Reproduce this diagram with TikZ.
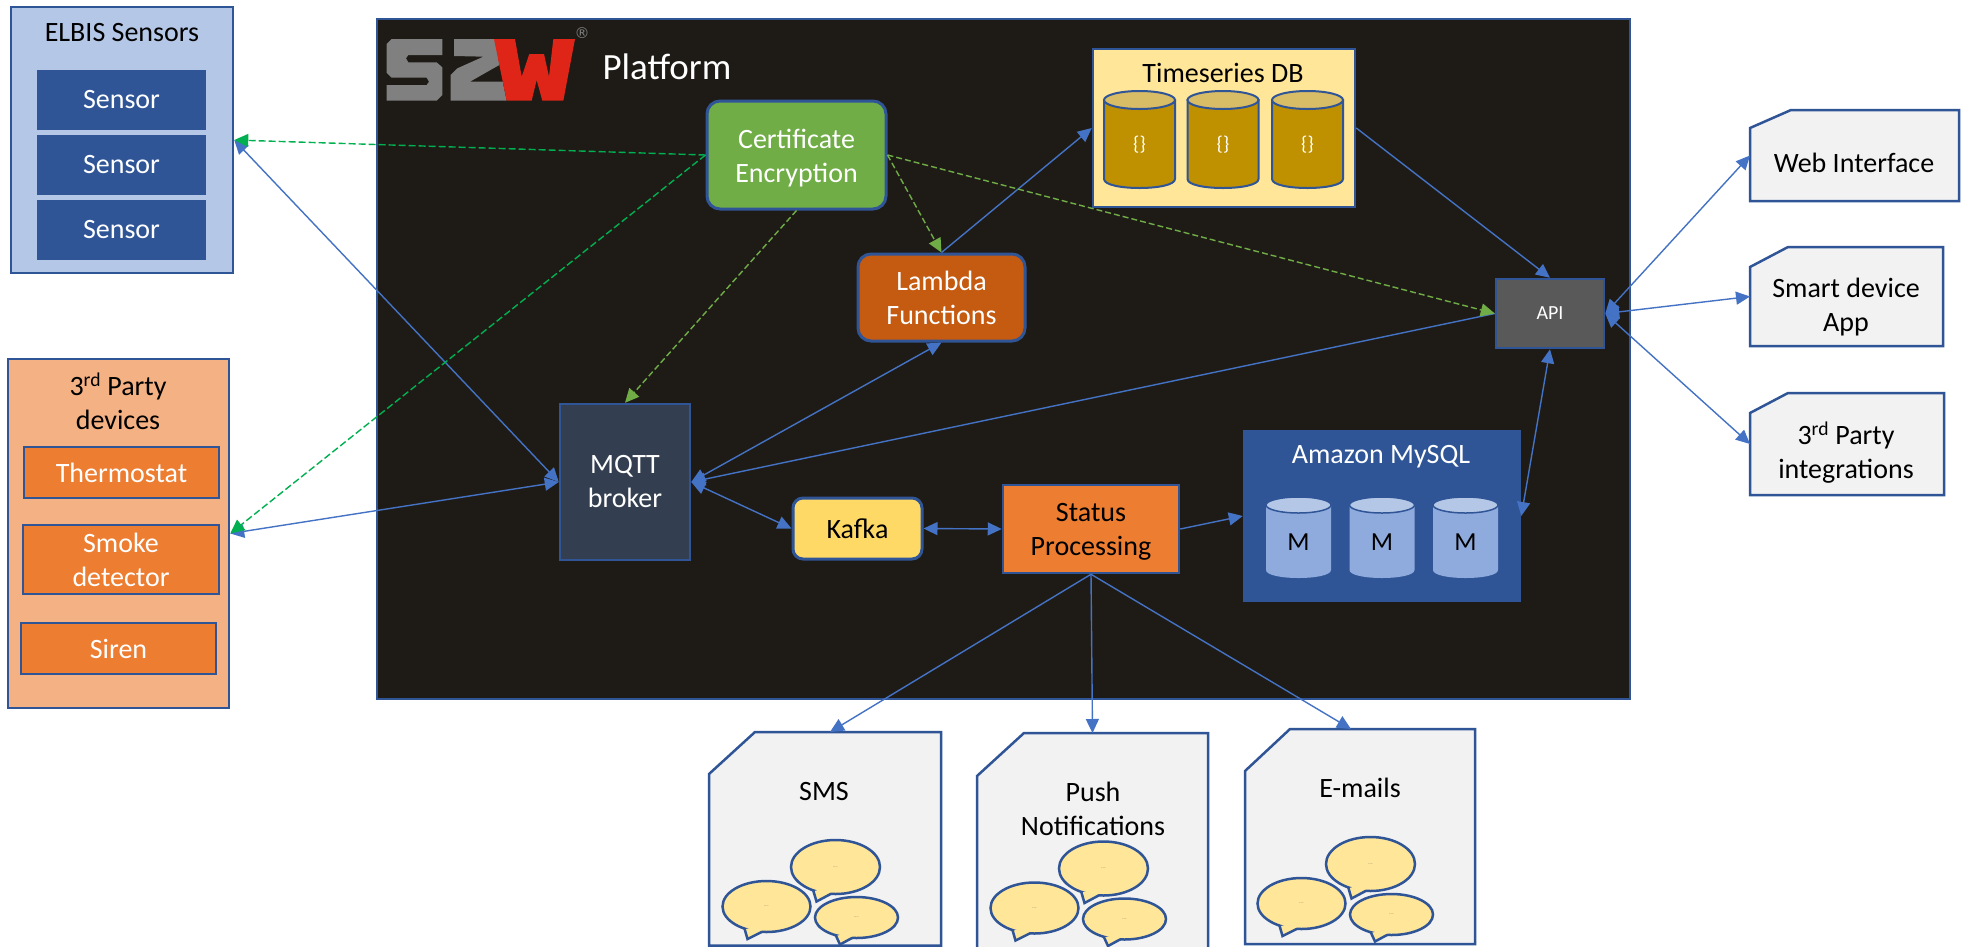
\documentclass[tikz,border=0pt]{standalone}
\usepackage{fontspec}
\setmainfont{Carlito}
\newfontfamily\regfont{DejaVu Sans}
\usetikzlibrary{arrows.meta,shapes.geometric}
\definecolor{edge}{HTML}{2F5597}
\definecolor{linkblue}{HTML}{4472C4}
\definecolor{secgreen}{HTML}{00B050}
\definecolor{ltgreen}{HTML}{70AD47}
\definecolor{platbg}{HTML}{1E1B16}
\definecolor{docbg}{HTML}{F2F2F2}
\definecolor{elbisbg}{HTML}{B4C7E7}
\definecolor{partybg}{HTML}{F4B183}
\definecolor{orangebox}{HTML}{ED7D31}
\definecolor{lambdabg}{HTML}{C55A11}
\definecolor{kafkabg}{HTML}{FFD966}
\definecolor{mqttbg}{HTML}{333F50}
\definecolor{apibg}{HTML}{595959}
\definecolor{pale}{HTML}{FFE699}
\definecolor{gold}{HTML}{BF9000}
\definecolor{goldtop}{HTML}{D9BC66}
\definecolor{msbody}{HTML}{8FAADC}
\definecolor{logogray}{HTML}{808080}
\definecolor{logored}{HTML}{DE2518}
\tikzset{
  >={Triangle[length=14pt,width=13pt]},
  px/.style n args={4}{at={({(#1+#3)/2},{(#2+#4)/2})},minimum width={#3-#1},minimum height={#4-#2}},
  base/.style={rectangle,draw=edge,line width=2.5pt,inner sep=0pt,align=center,font=\fontsize{28}{34}\selectfont},
  whitetext/.style={base,text=white},
  softbox/.style={base,rounded corners=13pt,line width=3pt},
  docanchor/.style={rectangle,inner sep=0pt,outer sep=0pt},
  docshape/.style={draw=edge,line width=2.5pt,fill=docbg,line join=miter},
  caption/.style={inner sep=0pt,align=center,font=\fontsize{28}{34}\selectfont},
  bluelink/.style={draw=linkblue,line width=1.4pt},
  seclink/.style={draw=secgreen,line width=1.4pt,dash pattern=on 7pt off 3pt},
  certlink/.style={draw=ltgreen,line width=1.4pt,dash pattern=on 6pt off 3pt},
  bubshape/.style={ellipse,draw=edge,line width=2.5pt,fill=pale,inner sep=0pt,
     font=\fontsize{4}{4}\selectfont,text=black!70},
  bubbles/.pic={
    \bubble{-a}{835.5}{867}{44.5}{27}{-19}{34.5}
    \bubble{-b}{766.5}{906.5}{44}{25.5}{-19}{32.5}
    \bubble{-c}{856.5}{917.5}{41.5}{20.5}{-16.5}{27}
  }
}
% name, centre x, centre y, half width, half height, tip dx, tip dy
\newcommand{\bubble}[7]{%
  \node[bubshape,minimum width={2*#4},minimum height={2*#5}] (#1) at (#2,#3) {....};
  \fill[pale] (#2,#3+#5*0.7) -- ({#2+#4*cos(118)},{#3+#5*sin(118)}) -- ({#2+#6},{#3+#7}) -- ({#2+#4*cos(98)},{#3+#5*sin(98)}) -- cycle;
  \draw[edge,line width=2.5pt,line join=miter] ({#2+#4*cos(120)},{#3+#5*sin(120)}) -- ({#2+#6},{#3+#7}) -- ({#2+#4*cos(96)},{#3+#5*sin(96)});
}
% outline with a snipped top left corner, drawn round a named node
\newcommand{\snipped}[3]{%
  \path[docshape] ([yshift=-#3]#1.north west) -- ([xshift=#2]#1.north west) -- (#1.north east) -- (#1.south east) -- (#1.south west) -- cycle;
}
% name, centre x, half width, top, bottom, end radius, body style, top style, label style, label
\newcommand{\dbcyl}[9]{%
  \path[#7] ({#2-#3},{#4+#6}) -- ({#2-#3},{#5-#6})
     .. controls ({#2-#3},{#5+#6/3}) and ({#2+#3},{#5+#6/3}) .. ({#2+#3},{#5-#6})
     -- ({#2+#3},{#4+#6}) -- cycle;
  \path[#8] (#2,{#4+#6}) ellipse[x radius=#3,y radius=#6];
  \node[inner sep=0pt,#9] (#1) at (#2,{(#4+#5)/2+5})}
\begin{document}
\begin{tikzpicture}[x=1pt,y=-1pt]
\useasboundingbox (0,0) rectangle (1968,946);
\fill[white] (0,0) rectangle (1968,946);

% platform
\node[base,fill=platbg,px={377}{19}{1630}{699}] (platform) {};
\fill[logogray] ({380+35/3},{30+27/3}) -- ({380+187/3},{30+27/3}) -- ({380+187/3},{30+75/3}) -- ({380+85/3},{30+75/3})
  -- ({380+78/3},{30+85/3}) -- ({380+85/3},{30+97/3}) -- ({380+170/3},{30+97/3}) -- ({380+187/3},{30+112/3})
  -- ({380+187/3},{30+195/3}) -- ({380+170/3},{30+212/3}) -- ({380+20/3},{30+212/3}) -- ({380+20/3},{30+165/3})
  -- ({380+140/3},{30+165/3}) -- ({380+147/3},{30+155/3}) -- ({380+140/3},{30+143/3}) -- ({380+35/3},{30+143/3})
  -- ({380+20/3},{30+128/3}) -- ({380+20/3},{30+42/3}) -- cycle;
\fill[logogray] ({380+222/3},{30+27/3}) -- ({380+345/3},{30+27/3}) -- ({380+358/3},{30+105/3}) -- ({380+270/3},{30+155/3})
  -- ({380+368/3},{30+155/3}) -- ({380+380/3},{30+212/3}) -- ({380+212/3},{30+212/3}) -- ({380+212/3},{30+135/3})
  -- ({380+232/3},{30+115/3}) -- ({380+310/3},{30+80/3}) -- ({380+222/3},{30+78/3}) -- cycle;
\fill[logored] ({380+342/3},{30+27/3}) -- ({380+405/3},{30+27/3}) -- ({380+425/3},{30+140/3}) -- ({380+448/3},{30+72/3})
  -- ({380+492/3},{30+72/3}) -- ({380+507/3},{30+140/3}) -- ({380+520/3},{30+27/3}) -- ({380+585/3},{30+27/3})
  -- ({380+550/3},{30+212/3}) -- ({380+487/3},{30+212/3}) -- ({380+470/3},{30+150/3}) -- ({380+455/3},{30+212/3})
  -- ({380+380/3},{30+212/3}) -- cycle;
\node[inner sep=0pt,text=logogray,font=\fontsize{15}{15}\regfont] (reg) at (582,33) {®};
\node[caption,text=white,font=\fontsize{37}{40}\selectfont] (plattitle) at (667,67) {Platform};

% left panels
\node[base,fill=elbisbg,px={11}{7}{233}{273}] (elbis) {};
\node[caption] (elbistitle) at (122,33) {ELBIS Sensors};
\node[whitetext,fill=edge,px={38}{71}{205}{129}] (s1) {Sensor};
\node[whitetext,fill=edge,px={38}{136}{205}{194}] (s2) {Sensor};
\node[whitetext,fill=edge,px={38}{201}{205}{259}] (s3) {Sensor};

\node[base,fill=partybg,px={8}{359}{229}{708}] (party) {};
\node[caption] (partytitle) at (118,401) {3\textsuperscript{rd} Party\\devices};
\node[whitetext,fill=orangebox,px={24}{447}{219}{498}] (thermo) {Thermostat};
\node[whitetext,fill=orangebox,px={23}{525}{219}{594}] (smoke) {Smoke\\detector};
\node[whitetext,fill=orangebox,px={21}{623}{216}{674}] (siren) {Siren};

% platform boxes
\node[softbox,text=white,fill=ltgreen,px={707}{101}{886}{209}] (cert) {\rule{0pt}{25pt}Certificate\\Encryption};
\node[softbox,text=white,fill=lambdabg,px={858}{254}{1025}{341}] (lambda) {Lambda\\Functions};
\node[whitetext,fill=mqttbg,px={560}{404}{690}{560}] (mqtt) {MQTT\\broker};
\node[softbox,rounded corners=10pt,fill=kafkabg,px={793}{498}{922}{559}] (kafka) {Kafka};
\node[base,fill=orangebox,px={1003}{485}{1179}{573}] (status) {\rule{0pt}{24pt}Status\\Processing};
\node[base,fill=apibg,text=white,font=\fontsize{20}{24}\selectfont,px={1496}{279}{1604}{348}] (api) {API};

\node[base,fill=pale,px={1093}{49}{1355}{207}] (ts) {};
\node[caption] (tstitle) at (1223,73) {Timeseries DB};
\dbcyl{tc1}{1139.5}{35.5}{91}{188}{9}{fill=gold,draw=edge,line width=2pt}{fill=goldtop,draw=edge,line width=2pt}{text=white,font=\fontsize{20}{20}\selectfont}{\{\}};
\dbcyl{tc2}{1223}{35.5}{91}{188}{9}{fill=gold,draw=edge,line width=2pt}{fill=goldtop,draw=edge,line width=2pt}{text=white,font=\fontsize{20}{20}\selectfont}{\{\}};
\dbcyl{tc3}{1307.5}{35.5}{91}{188}{9}{fill=gold,draw=edge,line width=2pt}{fill=goldtop,draw=edge,line width=2pt}{text=white,font=\fontsize{20}{20}\selectfont}{\{\}};

\node[base,fill=edge,px={1244}{431}{1520}{601}] (mysql) {};
\node[caption,text=white] (mysqltitle) at (1381,457) {Amazon MySQL};
\dbcyl{mc1}{1298.5}{32.5}{497}{578}{8}{fill=msbody}{fill=elbisbg,draw=edge,line width=1.5pt}{text=black,font=\fontsize{26}{26}\selectfont}{M};
\dbcyl{mc2}{1382}{32.5}{497}{578}{8}{fill=msbody}{fill=elbisbg,draw=edge,line width=1.5pt}{text=black,font=\fontsize{26}{26}\selectfont}{M};
\dbcyl{mc3}{1465.5}{32.5}{497}{578}{8}{fill=msbody}{fill=elbisbg,draw=edge,line width=1.5pt}{text=black,font=\fontsize{26}{26}\selectfont}{M};

% right documents
\node[docanchor,px={1750}{110}{1959}{201}] (web) {};
\snipped{web}{41pt}{18pt}
\node[caption] (webt) at (1854,163) {Web Interface};
\node[docanchor,px={1750}{247}{1943}{346}] (app) {};
\snipped{app}{38pt}{20pt}
\node[caption] (appt) at (1846,307) {Smart device\\App};
\node[docanchor,px={1750}{393}{1944}{495}] (integ) {};
\snipped{integ}{38pt}{20pt}
\node[caption] (integt) at (1846,453) {3\textsuperscript{rd} Party\\integrations};

% bottom documents
\node[docanchor,px={709}{732}{941}{945.5}] (sms) {};
\snipped{sms}{46pt}{42pt}
\node[caption] (smst) at (824,791) {SMS};
\node[docanchor,px={977}{733}{1208}{952}] (push) {};
\snipped{push}{47pt}{43pt}
\node[caption] (pusht) at (1093,809) {Push\\Notifications};
\node[docanchor,px={1245}{729}{1475}{944}] (emails) {};
\snipped{emails}{45pt}{42pt}
\node[caption] (emailst) at (1360,788) {E-mails};
\pic (b1) at (0,0) {bubbles};
\pic (b2) at (268,1.5) {bubbles};
\pic (b3) at (535,-3) {bubbles};

% connectors
\draw[bluelink,<->] (elbis.east) -- (mqtt.west);
\draw[bluelink,<->] (party.east) -- (mqtt.west);
\draw[bluelink,<->] (mqtt.east) -- (lambda.south);
\draw[bluelink,<-] (mqtt.east) -- (api.west);
\draw[bluelink,<->] (mqtt.east) -- (kafka.west);
\draw[bluelink,<->] (kafka.east) -- (status.west);
\draw[bluelink,->] (lambda.north) -- (ts.west);
\draw[bluelink,->] (ts.east) -- (api.north);
\draw[bluelink,->] (status.east) -- (mysql.west);
\draw[bluelink,<->] (mysql.east) -- (api.south);
\draw[bluelink,<->] (api.east) -- (web.west);
\draw[bluelink,<->] (api.east) -- (app.west);
\draw[bluelink,<->] (api.east) -- (integ.west);
\draw[bluelink,->] (status.south) -- ([xshift=5pt]sms.north);
\draw[bluelink,->] (status.south) -- (push.north);
\draw[bluelink,->] (status.south) -- ([xshift=-9pt]emails.north);
\draw[seclink,->] (cert.west) -- (elbis.east);
\draw[seclink,->] (cert.west) -- (party.east);
\draw[certlink,->] (cert.south) -- (mqtt.north);
\draw[certlink,->] (cert.east) -- (lambda.north);
\draw[certlink,->] (cert.east) -- (api.west);
\end{tikzpicture}
\end{document}
